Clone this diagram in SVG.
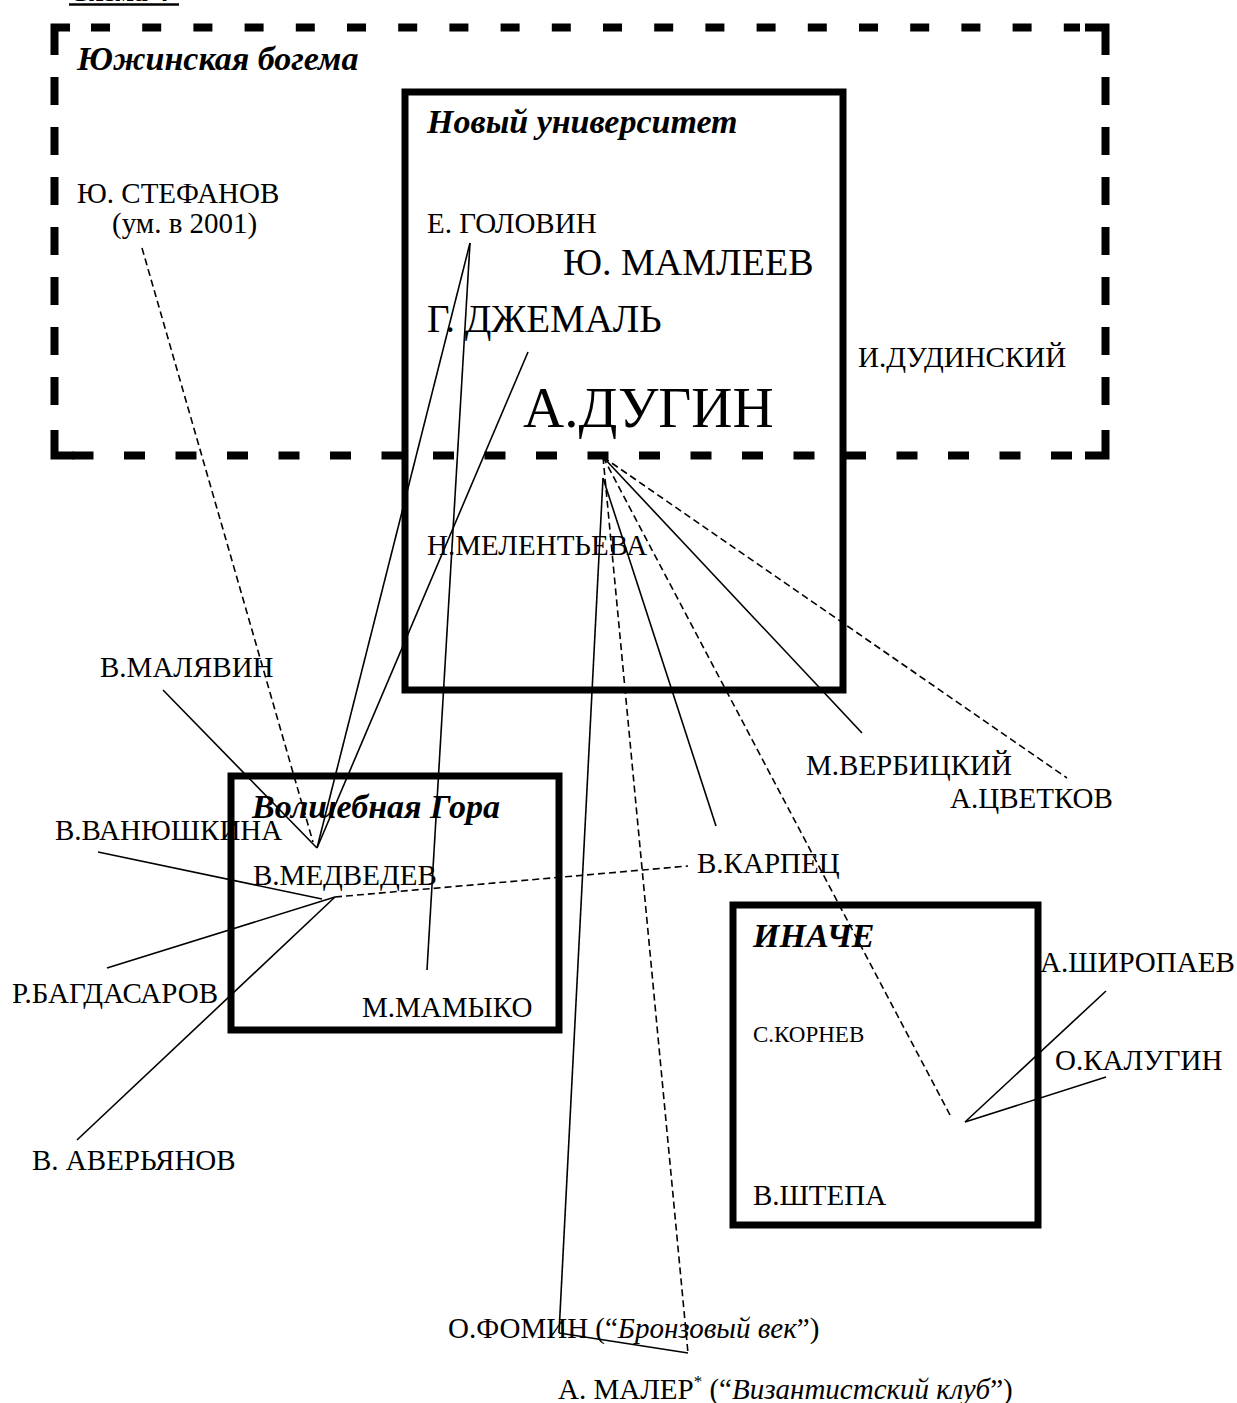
<svg xmlns="http://www.w3.org/2000/svg" width="1237" height="1403" viewBox="0 0 1237 1403">
<style>
text{font-family:"Liberation Serif","Times New Roman",serif;fill:#000}
.n{font-size:29px}
.t{font-weight:bold;font-style:italic;font-size:34px}
.i{font-style:italic}
.box{fill:none;stroke:#000;stroke-width:7}
.dbox{fill:none;stroke:#000;stroke-width:8;stroke-linecap:butt}
.c{fill:none;stroke:#000;stroke-width:1.6}
.d{fill:none;stroke:#000;stroke-width:1.6;stroke-dasharray:7 4}
</style>
<rect width="1237" height="1403" fill="#fff"/>
<g id="header">
<text x="69" y="1" style="font-size:28px;font-weight:bold">Схема 4</text>
<line x1="69" y1="4.5" x2="179" y2="4.5" stroke="#000" stroke-width="2.5"/>
</g>
<g id="yuzhinskaya">
<path class="dbox" d="M54.5,55 V27.5 H70"/>
<path class="dbox" d="M1085,27.5 H1105.5 V55"/>
<path class="dbox" d="M1105.5,430 V455.5 H1085"/>
<path class="dbox" d="M74,455.5 H54.5 V430"/>
<line class="dbox" x1="91" y1="27.5" x2="1080" y2="27.5" style="stroke-dasharray:19 32.2"/>
<line class="dbox" x1="72.5" y1="455.5" x2="1080" y2="455.5" style="stroke-dasharray:21 30.5"/>
<line class="dbox" x1="54.5" y1="77" x2="54.5" y2="425" style="stroke-dasharray:28 22"/>
<line class="dbox" x1="1105.5" y1="77" x2="1105.5" y2="425" style="stroke-dasharray:28 22"/>
<text class="t" x="77" y="70">Южинская богема</text>
<text class="n" x="77" y="203">Ю. СТЕФАНОВ</text>
<text class="n" x="112" y="233">(ум. в 2001)</text>
<text class="n" x="858" y="367">И.ДУДИНСКИЙ</text>
</g>
<g id="novy-universitet">
<rect class="box" x="405" y="92" width="438" height="598"/>
<text class="t" x="427" y="133">Новый университет</text>
<text class="n" x="427" y="233" style="font-size:29px">Е. ГОЛОВИН</text>
<text x="563" y="275" style="font-size:38px">Ю. МАМЛЕЕВ</text>
<text x="427" y="332" style="font-size:39px">Г. ДЖЕМАЛЬ</text>
<text x="523" y="427" style="font-size:57px">А.ДУГИН</text>
<text class="n" x="427" y="555">Н.МЕЛЕНТЬЕВА</text>
</g>
<g id="volshebnaya-gora">
<rect class="box" x="231" y="776" width="328" height="254"/>
<text class="t" x="252" y="818">Волшебная Гора</text>
<text class="n" x="253" y="885">В.МЕДВЕДЕВ</text>
<text class="n" x="362" y="1017">М.МАМЫКО</text>
</g>
<g id="inache">
<rect class="box" x="733" y="905" width="305" height="320"/>
<text class="t" x="753" y="947">ИНАЧЕ</text>
<text x="753" y="1042" style="font-size:23px">С.КОРНЕВ</text>
<text class="n" x="753" y="1205">В.ШТЕПА</text>
</g>
<g id="persons">
<text class="n" x="100" y="677">В.МАЛЯВИН</text>
<text class="n" x="55" y="840">В.ВАНЮШКИНА</text>
<text class="n" x="12" y="1003">Р.БАГДАСАРОВ</text>
<text class="n" x="32" y="1170">В. АВЕРЬЯНОВ</text>
<text class="n" x="697" y="873">В.КАРПЕЦ</text>
<text class="n" x="806" y="775">М.ВЕРБИЦКИЙ</text>
<text class="n" x="950" y="808">А.ЦВЕТКОВ</text>
<text class="n" x="1040" y="972">А.ШИРОПАЕВ</text>
<text class="n" x="1055" y="1070">О.КАЛУГИН</text>
<text class="n" x="448" y="1338">О.ФОМИН (“<tspan class="i">Бронзовый век</tspan>”)</text>
<text class="n" x="558" y="1399">А. МАЛЕР<tspan dy="-12" style="font-size:17px">*</tspan><tspan dy="12"> (“</tspan><tspan class="i">Византистский клуб</tspan>”)</text>
</g>
<g id="connectors">
<line class="d" x1="142" y1="248" x2="313" y2="842"/>
<line class="c" x1="163" y1="690" x2="317" y2="848"/>
<line class="c" x1="470" y1="243" x2="317" y2="848"/>
<line class="c" x1="528" y1="352" x2="317" y2="848"/>
<line class="c" x1="470" y1="243" x2="427" y2="970"/>
<line class="c" x1="98" y1="852" x2="322" y2="899"/>
<line class="c" x1="107" y1="968" x2="335" y2="897"/>
<line class="c" x1="77" y1="1140" x2="335" y2="897"/>
<line class="d" x1="335" y1="897" x2="688" y2="866"/>
<line class="c" x1="603" y1="478" x2="559" y2="1333"/>
<line class="c" x1="559" y1="1333" x2="688" y2="1353"/>
<line class="d" x1="603" y1="457" x2="688" y2="1353"/>
<line class="c" x1="603" y1="478" x2="716" y2="826"/>
<line class="c" x1="603" y1="457" x2="862" y2="733"/>
<line class="d" x1="603" y1="457" x2="1067" y2="778"/>
<line class="d" x1="603" y1="457" x2="950" y2="1115"/>
<line class="c" x1="965" y1="1122" x2="1106" y2="991"/>
<line class="c" x1="965" y1="1122" x2="1106" y2="1077"/>
</g>
</svg>
